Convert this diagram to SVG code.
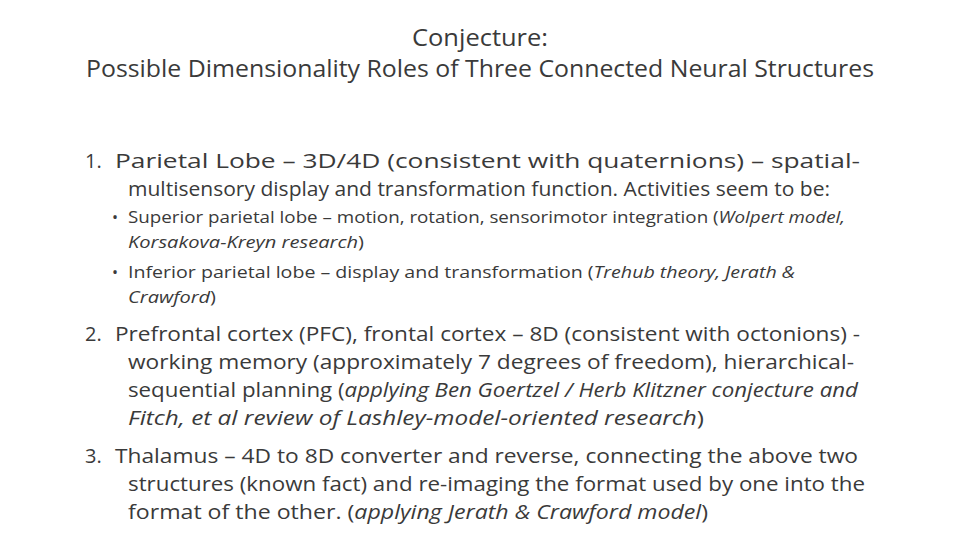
<svg xmlns="http://www.w3.org/2000/svg" width="960" height="540" viewBox="0 0 960 540">
<style>
text{font-family:"Open Sans","Noto Sans",sans-serif;fill:#3a3a3a}
.t{font-size:23px}
.b{font-size:20px}
.s{font-size:16px}
.i{font-style:italic}
</style>
<rect width="960" height="540" fill="#fff"/>
<g id="title">
<text class="t" x="412" y="46" textLength="136" lengthAdjust="spacingAndGlyphs">Conjecture:</text>
<text class="t" x="86" y="77" textLength="788" lengthAdjust="spacingAndGlyphs">Possible Dimensionality Roles of Three Connected Neural Structures</text>
</g>
<g id="item1">
<text class="b" x="85" y="168">1.</text>
<text class="b" x="115" y="168" textLength="745" lengthAdjust="spacingAndGlyphs">Parietal Lobe – 3D/4D (consistent with quaternions) – spatial-</text>
<text class="b" x="128" y="196" textLength="702" lengthAdjust="spacingAndGlyphs">multisensory display and transformation function. Activities seem to be:</text>
<text class="s" x="112" y="223">•</text>
<text class="s" x="128" y="223" textLength="717" lengthAdjust="spacingAndGlyphs">Superior parietal lobe – motion, rotation, sensorimotor integration (<tspan class="i">Wolpert model,</tspan></text>
<text class="s" x="128" y="248" textLength="236" lengthAdjust="spacingAndGlyphs"><tspan class="i">Korsakova-Kreyn research</tspan>)</text>
<text class="s" x="112" y="278">•</text>
<text class="s" x="128" y="278" textLength="667" lengthAdjust="spacingAndGlyphs">Inferior parietal lobe – display and transformation (<tspan class="i">Trehub theory, Jerath &amp;</tspan></text>
<text class="s" x="128" y="303" textLength="88" lengthAdjust="spacingAndGlyphs"><tspan class="i">Crawford</tspan>)</text>
</g>
<g id="item2">
<text class="b" x="85" y="341">2.</text>
<text class="b" x="115" y="341" textLength="745" lengthAdjust="spacingAndGlyphs">Prefrontal cortex (PFC), frontal cortex – 8D (consistent with octonions) -</text>
<text class="b" x="128" y="369" textLength="726" lengthAdjust="spacingAndGlyphs">working memory (approximately 7 degrees of freedom), hierarchical-</text>
<text class="b" x="128" y="397" textLength="730" lengthAdjust="spacingAndGlyphs">sequential planning (<tspan class="i">applying Ben Goertzel / Herb Klitzner conjecture and</tspan></text>
<text class="b" x="128" y="425" textLength="576" lengthAdjust="spacingAndGlyphs"><tspan class="i">Fitch, et al review of Lashley-model-oriented research</tspan>)</text>
</g>
<g id="item3">
<text class="b" x="85" y="463">3.</text>
<text class="b" x="115" y="463" textLength="743" lengthAdjust="spacingAndGlyphs">Thalamus – 4D to 8D converter and reverse, connecting the above two</text>
<text class="b" x="128" y="491" textLength="737" lengthAdjust="spacingAndGlyphs">structures (known fact) and re-imaging the format used by one into the</text>
<text class="b" x="128" y="519" textLength="580" lengthAdjust="spacingAndGlyphs">format of the other. (<tspan class="i">applying Jerath &amp; Crawford model</tspan>)</text>
</g>
</svg>
